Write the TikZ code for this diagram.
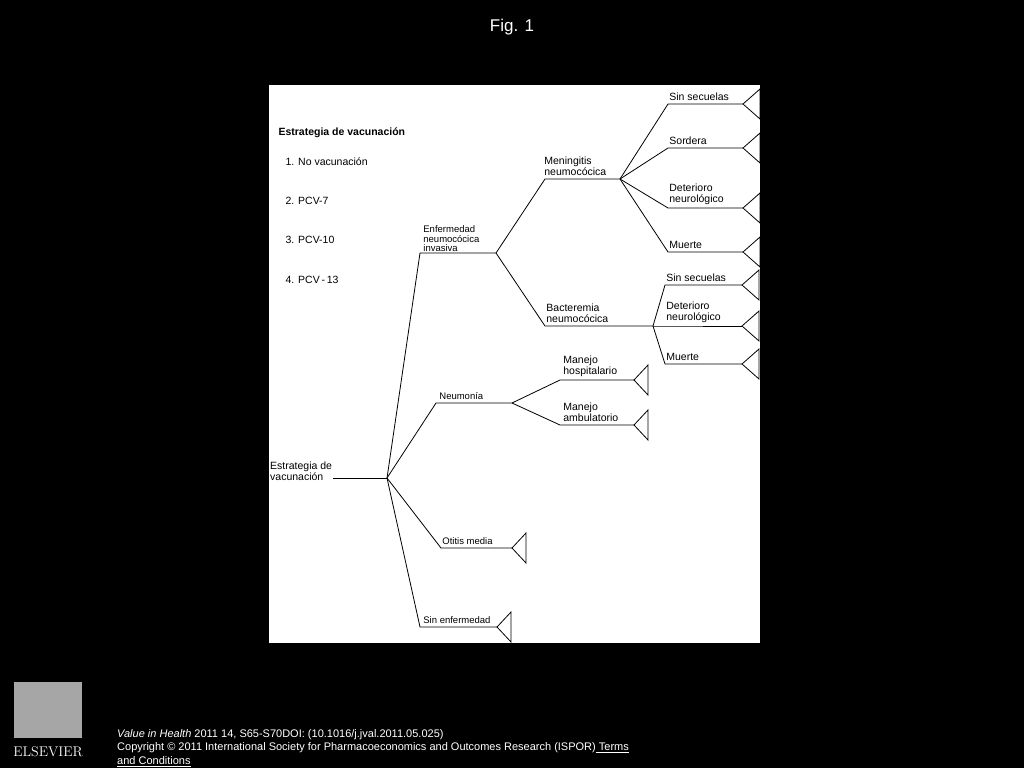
\documentclass[tikz,border=0pt]{standalone}
\usepackage{fontspec}
\setmainfont{Liberation Sans}
\usetikzlibrary{positioning}

\begin{document}
\begin{tikzpicture}[x=1pt, y=-1pt,
branch/.style={draw=black, thick},
lbl/.style={anchor=south west, inner sep=1pt, align=left, font=\fontsize{10.5}{11}\selectfont},
small/.style={anchor=south west, inner sep=1pt, align=left, font=\fontsize{9.5}{9.5}\selectfont},
foot/.style={anchor=west, inner sep=0pt, text=white, font=\fontsize{11}{11}\selectfont},
leaf/.pic={\draw[thick] (0,0) -- (#1,-15) -- (#1,15) -- cycle;}
]
\useasboundingbox[fill=black] (0,0) rectangle (1024,768);
\fill[white] (269,85) rectangle (760,643);
\node[text=white, font=\fontsize{17}{17}\selectfont] (title) at (512,27) {Fig. 1};

%Legend
\node[anchor=west, font=\bfseries\fontsize{10.5}{11}\selectfont] (leg) at (275,133) {Estrategia de vacunación};
\foreach \t/\y in {1. No vacunación/162, 2. PCV-7/201, 3. PCV-10/240, 4. PCV\,-\,13/280}
  \node[anchor=west, font=\fontsize{10.5}{11}\selectfont] at (282,\y) {\t};

%Nodes
\coordinate (R)  at (387,478);
\coordinate (E)  at (496,253);
\coordinate (N)  at (512,403);
\coordinate (M)  at (620,179);
\coordinate (B)  at (653,326);
\node[anchor=north west, inner sep=1pt, align=left, font=\fontsize{10.5}{11}\selectfont] (root) at (269,461) {Estrategia de\\vacunación};

%Lines
\draw[branch] (root.east|-R) -- (R);
\draw[branch] (R) -- (420,253) node[small, above right=0pt and 2pt] {Enfermedad\\neumocócica\\invasiva} -- (E);
\draw[branch] (R) -- (436,403) node[small, above right=2pt and 2pt] {Neumonía} -- (N);
\draw[branch] (R) -- (441,548) node[small, above right=2pt and 0pt] {Otitis media} -- (512,548) coordinate (O);
\draw[branch] (R) -- (420,627) node[small, above right=2pt and 2pt] {Sin enfermedad} -- (497,627) coordinate (S);
\draw[branch] (E) -- (545,179) node[lbl, above right=2pt and -2pt] {Meningitis\\neumocócica} -- (M);
\draw[branch] (E) -- (545,326) node[lbl, above right=2pt and 0pt] {Bacteremia\\neumocócica} -- (B);
\foreach \y/\t [count=\i] in {104/Sin secuelas, 148/Sordera, 208/{Deterioro\\neurológico}, 252/Muerte}
  \draw[branch] (M) -- (668,\y) node[lbl, above right=2pt and 0pt] {\t} -- (743,\y) coordinate (m\i);
\draw[branch] (B) -- (665,285) node[lbl, above right=2pt and 0pt] {Sin secuelas} -- (742,285) coordinate (b1);
\draw[branch] (B) -- (665,326) node[lbl, above right=2pt and 0pt] {Deterioro\\neurológico} -- (742,326) coordinate (b2);
\draw[branch] (B) -- (665,364) node[lbl, above right=2pt and 0pt] {Muerte} -- (742,364) coordinate (b3);
\draw[branch] (N) -- (560,380) node[lbl, above right=2pt and 2pt] {Manejo\\hospitalario} -- (634,380) coordinate (h1);
\draw[branch] (N) -- (560,425) node[lbl, above right=2pt and 2pt] {Manejo\\ambulatorio} -- (634,425) coordinate (h2);

%Leaves
\foreach \c in {m1,m2,m3,m4,b1,b2,b3} \pic at (\c) {leaf=17};
\foreach \c in {h1,h2,O,S} \pic at (\c) {leaf=14};

%Footer
\fill[gray!70] (14,682) rectangle (82,738);
\node[text=white, font=\fontfamily{lmr}\selectfont\fontsize{14}{14}\selectfont] (els) at (48,752) {ELSEVIER};
\node[foot] (cite) at (117,735) {\textit{Value in Health} 2011 14, S65-S70DOI: (10.1016/j.jval.2011.05.025)};
\node[foot] (copy) at (117,748) {Copyright © 2011 International Society for Pharmacoeconomics and Outcomes Research (ISPOR)\underline{ Terms}};
\node[foot] (cond) at (117,762) {\underline{and Conditions}};
\end{tikzpicture}
\end{document}
